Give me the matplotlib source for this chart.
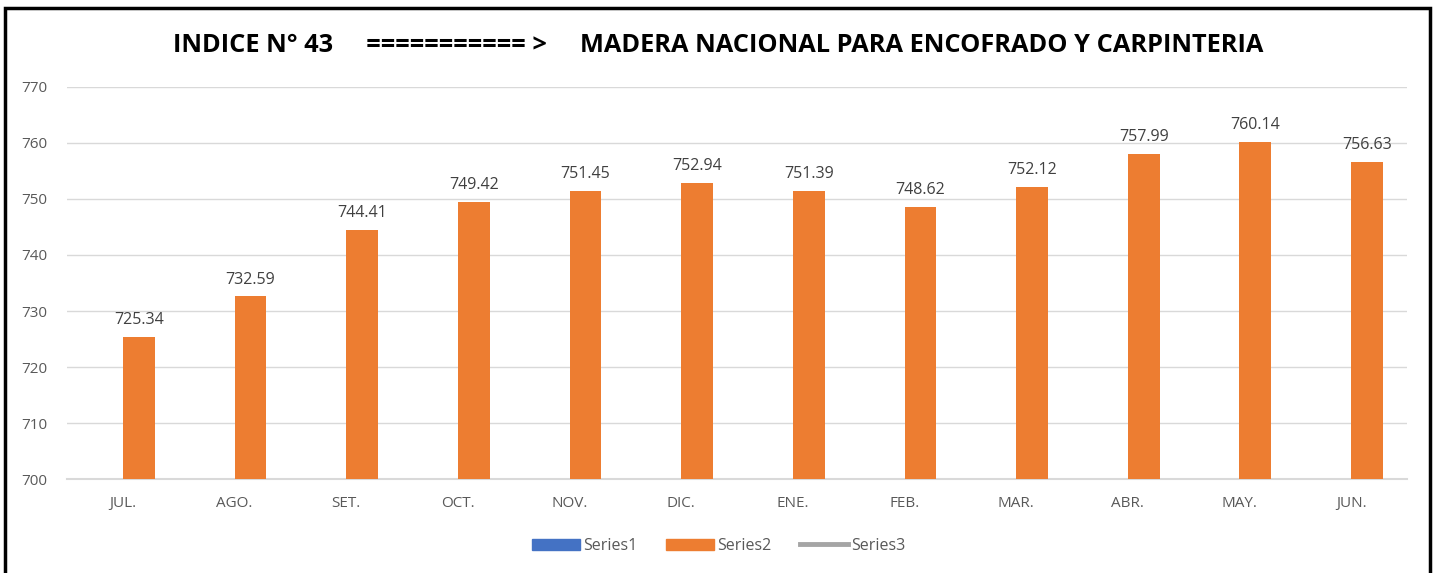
import matplotlib.pyplot as plt
from matplotlib.patches import Rectangle
from matplotlib.lines import Line2D
import numpy as np

months = ['JUL.', 'AGO.', 'SET.', 'OCT.', 'NOV.', 'DIC.',
          'ENE.', 'FEB.', 'MAR.', 'ABR.', 'MAY.', 'JUN.']
series2 = [725.34, 732.59, 744.41, 749.42, 751.45, 752.94,
           751.39, 748.62, 752.12, 757.99, 760.14, 756.63]
y_ticks = [700, 710, 720, 730, 740, 750, 760, 770]

ORANGE = '#ED7D31'
BLUE = '#4472C4'
GREY = '#A5A5A5'
TEXT = '#595959'

plt.rcParams['font.family'] = ['Open Sans', 'DejaVu Sans']

fig = plt.figure(figsize=(14.37, 5.73), dpi=100)
ax = fig.add_axes([67 / 1437, 1 - 479 / 573, 1340 / 1437, 392 / 573])

x = np.arange(len(months))
width = 0.285
ax.bar(x + width / 2, series2, width, color=ORANGE, zorder=3)

for xi, v in zip(x, series2):
    ax.text(xi + width / 2, v + 1.6, f'{v:.2f}', ha='center', va='bottom',
            fontsize=11.5, color='#404040')

ax.set_ylim(700, 770)
ax.set_xlim(-0.5, len(months) - 0.5)
ax.set_yticks(y_ticks)
ax.set_xticks(x)
ax.set_xticklabels(months)
ax.tick_params(axis='both', length=0, labelsize=11, labelcolor=TEXT)
ax.tick_params(axis='y', pad=14)
ax.tick_params(axis='x', pad=12)
ax.grid(axis='y', color='#D9D9D9', linewidth=1, zorder=0)
ax.axhline(700, color='#D9D9D9', linewidth=1.5, zorder=2, clip_on=False)
for s in ax.spines.values():
    s.set_visible(False)

fig.text(0.5, 1 - 46 / 573,
         'INDICE N° 43     =========== >     MADERA NACIONAL PARA ENCOFRADO Y CARPINTERIA',
         ha='center', va='center', fontsize=18.3, fontweight='bold', color='black')

handles = [Rectangle((0, 0), 1, 1, color=BLUE),
           Rectangle((0, 0), 1, 1, color=ORANGE),
           Line2D([], [], color=GREY, linewidth=3.5)]
fig.legend(handles, ['Series1', 'Series2', 'Series3'], loc='center',
           bbox_to_anchor=(0.5, 1 - 546 / 573), ncol=3, frameon=False,
           fontsize=11.5, labelcolor=TEXT, handlelength=3, handleheight=0.7,
           handletextpad=0.2, columnspacing=1.8)

border = Rectangle((5 / 1437, -0.05), 1425 / 1437, 1 - 8 / 573 + 0.05,
                   transform=fig.transFigure, fill=False, edgecolor='black',
                   linewidth=2.5, clip_on=False)
fig.patches.append(border)

fig.savefig('out.png', dpi=100)
